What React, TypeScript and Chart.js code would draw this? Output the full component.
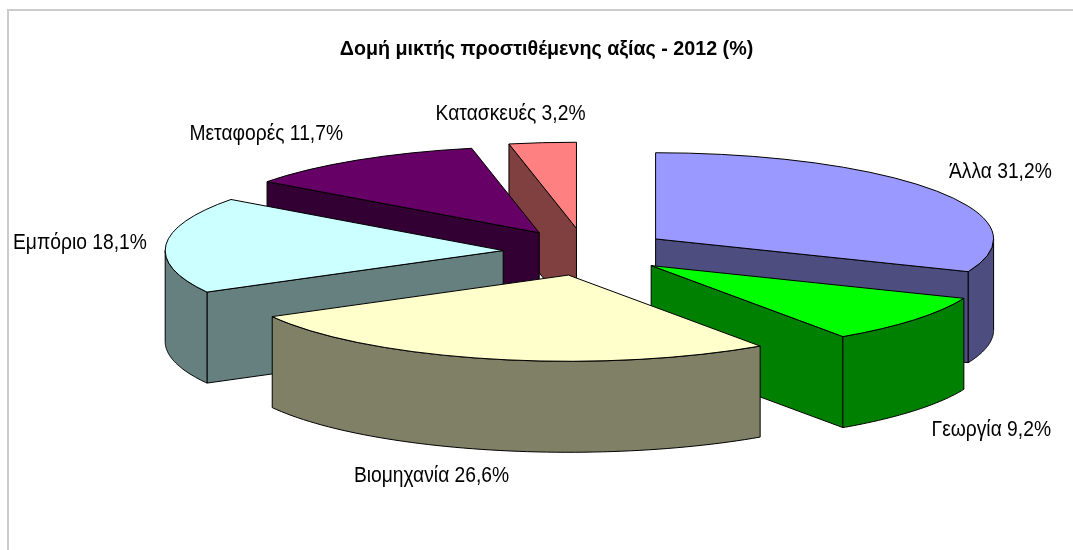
import React, { useEffect, useRef } from "react";
import { Chart, registerables } from "chart.js";

Chart.register(...registerables);

const TITLE = "Δομή μικτής προστιθέμενης αξίας - 2012 (%)";
const categories = ["Άλλα", "Γεωργία", "Βιομηχανία", "Εμπόριο", "Μεταφορές", "Κατασκευές"];
const shares = [31.2, 9.2, 26.6, 18.1, 11.7, 3.2];
const shareLabels = ["31,2%", "9,2%", "26,6%", "18,1%", "11,7%", "3,2%"];
const topColors = ["#9999FF", "#00FF00", "#FFFFCC", "#CCFFFF", "#660066", "#FF8080"];
const sideColors = ["#4D4D80", "#008000", "#808066", "#668080", "#330033", "#804040"];

// Presentation settings for the 3-D projection of the pie.
const PIE_RADIUS = 338;
const TILT = 0.255;
const DEPTH = 91;
const EXPLODE = 85;
const SHIFT_X = 38.5;
const PAINT_ORDER = [5, 4, 3, 0, 1, 2];
const SLICE_NUDGE = [
  [0, 0],
  [0, 1],
  [3, 3],
  [3, 1],
  [0, 0],
  [0, -1],
];
const LABEL_FONT = '22px "Liberation Sans", Arial, sans-serif';
const LABEL_STRETCH = 0.875;
const LABEL_NUDGE = [
  [64, -19],
  [77, 111],
  [-56, 120],
  [-83, -1],
  [-91, -26],
  [-32, -30],
];

const pie3d = {
  id: "pie3d",
  beforeDatasetDraw(chart: any) {
    const ctx: CanvasRenderingContext2D = chart.ctx;
    const arcs = chart.getDatasetMeta(0).data;
    const project = (arc: any, angle: number, r: number, drop = 0) => {
      const mid = (arc.startAngle + arc.endAngle) / 2;
      const n = SLICE_NUDGE[arcs.indexOf(arc)];
      return [
        arc.x + SHIFT_X + n[0] + EXPLODE * Math.cos(mid) + r * Math.cos(angle),
        arc.y + n[1] + TILT * (EXPLODE * Math.sin(mid) + r * Math.sin(angle)) + drop,
      ];
    };
    const outline = () => {
      ctx.strokeStyle = "#000000";
      ctx.lineWidth = 1;
      ctx.lineJoin = "round";
      ctx.stroke();
    };
    const face = (pts: number[][], fill: string) => {
      ctx.beginPath();
      pts.forEach(([x, y], i) => (i ? ctx.lineTo(x, y) : ctx.moveTo(x, y)));
      ctx.closePath();
      ctx.fillStyle = fill;
      ctx.fill();
      outline();
    };

    PAINT_ORDER.forEach((i) => {
      const arc = arcs[i];
      const { startAngle: a0, endAngle: a1, outerRadius: R } = arc;
      const apex = project(arc, 0, 0);
      const start = project(arc, a0, R);
      const end = project(arc, a1, R);
      const side = sideColors[i];
      const wall = (p: number[], q: number[]) =>
        face([p, q, [q[0], q[1] + DEPTH], [p[0], p[1] + DEPTH]], side);

      // Back walls first, then the front-facing ones.
      if (start[0] < apex[0]) wall(apex, start);
      if (apex[0] < end[0]) wall(end, apex);
      const from = Math.max(a0, 0);
      const to = Math.min(a1, Math.PI);
      if (to > from) {
        const upper: number[][] = [];
        const lower: number[][] = [];
        const steps = 60;
        for (let s = 0; s <= steps; s++) {
          const a = from + ((to - from) * s) / steps;
          upper.push(project(arc, a, R));
          lower.unshift(project(arc, a, R, DEPTH));
        }
        face([...upper, ...lower], side);
      }

      // Top face: the library's own arc element, seen through the tilt.
      ctx.save();
      ctx.translate(apex[0], apex[1]);
      ctx.scale(1, TILT);
      ctx.translate(-arc.x, -arc.y);
      arc.draw(ctx);
      ctx.restore();

      ctx.beginPath();
      ctx.moveTo(apex[0], apex[1]);
      ctx.ellipse(apex[0], apex[1], R, R * TILT, 0, a0, a1);
      ctx.closePath();
      outline();
    });

    arcs.forEach((arc: any, i: number) => {
      const mid = (arc.startAngle + arc.endAngle) / 2;
      const [x, y] = project(arc, mid, arc.outerRadius);
      ctx.save();
      ctx.font = LABEL_FONT;
      ctx.fillStyle = "#000000";
      ctx.textAlign = "center";
      ctx.textBaseline = "middle";
      ctx.translate(x + LABEL_NUDGE[i][0] - SLICE_NUDGE[i][0], y + LABEL_NUDGE[i][1] - SLICE_NUDGE[i][1]);
      ctx.scale(LABEL_STRETCH, 1);
      ctx.fillText(`${categories[i]} ${shareLabels[i]}`, 0, 0);
      ctx.restore();
    });
    return false;
  },
};

export default function App() {
  const ref = useRef<HTMLCanvasElement>(null);
  useEffect(() => {
    const chart = new Chart(ref.current as HTMLCanvasElement, {
      type: "pie",
      data: {
        labels: categories,
        datasets: [
          {
            data: shares,
            backgroundColor: topColors,
            borderWidth: 0,
            clip: false,
          } as any,
        ],
      },
      options: {
        responsive: false,
        animation: false,
        radius: PIE_RADIUS,
        rotation: 0,
        layout: { padding: { left: 20, right: 0, top: 0, bottom: 115.2 } },
        plugins: {
          legend: { display: false },
          tooltip: { enabled: false },
          title: {
            display: true,
            text: TITLE,
            color: "#000000",
            font: { family: '"Liberation Sans", Arial, sans-serif', size: 19.7, weight: "bold", lineHeight: 1 },
            padding: { top: 40, bottom: 7.5 },
          },
        },
      } as any,
      plugins: [pie3d],
    });
    return () => chart.destroy();
  }, []);
  return (
    <div style={{ position: "absolute", left: 0, top: 0, width: 1073, height: 550, overflow: "hidden", background: "#fff" }}>
      <div
        style={{
          position: "absolute",
          left: 7,
          top: 9,
          right: -4,
          bottom: -4,
          borderTop: "2px solid #cccccc",
          borderLeft: "2px solid #cccccc",
        }}
      />
      <canvas ref={ref} width={1073} height={550} style={{ position: "absolute", left: 0, top: 0, display: "block" }} />
    </div>
  );
}
